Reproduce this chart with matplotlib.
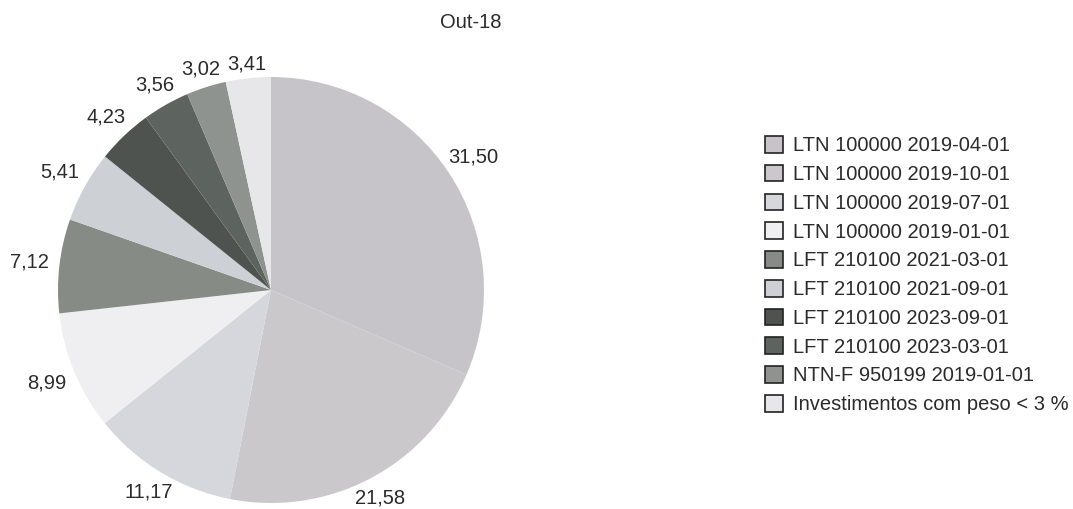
import matplotlib
matplotlib.use('Agg')
import numpy as np
import matplotlib.pyplot as plt

# Composicao da carteira em Out-18 (% do total)
labels = [
    'LTN 100000 2019-04-01',
    'LTN 100000 2019-10-01',
    'LTN 100000 2019-07-01',
    'LTN 100000 2019-01-01',
    'LFT 210100 2021-03-01',
    'LFT 210100 2021-09-01',
    'LFT 210100 2023-09-01',
    'LFT 210100 2023-03-01',
    'NTN-F 950199 2019-01-01',
    'Investimentos com peso < 3 %',
]
weights = [31.50, 21.58, 11.17, 8.99, 7.12, 5.41, 4.23, 3.56, 3.02, 3.41]
title = 'Out-18'

colors = ['#c6c4c9', '#cbc8cb', '#d5d7dc', '#efeef0', '#868b86',
          '#cdd1d6', '#4e534f', '#5d645f', '#8f938f', '#e7e7e9']

plt.rcParams['font.family'] = ['Liberation Sans', 'DejaVu Sans']
TEXT_COLOR = '#2b2b2b'
FONTSIZE = 14.5
W, H = 1073, 509

fig = plt.figure(figsize=(W / 100, H / 100), dpi=100)

# pie centre ~ (271, 290) px, radius ~ 213 px
cx, cy, r = 271, 290, 213
ax = fig.add_axes([(cx - r) / W, (H - cy - r) / H, 2 * r / W, 2 * r / H])

wedges, _ = ax.pie(weights, colors=colors, startangle=90, counterclock=False,
                   radius=1.0, wedgeprops={'linewidth': 0})
ax.set_xlim(-1, 1)
ax.set_ylim(-1, 1)
ax.set_aspect('equal')

# value labels centred just outside the rim (offset grows with text extent)
gap, half_w, half_h = 8 / r, 22 / r, 4 / r
for w, val in zip(wedges, weights):
    theta = np.deg2rad(0.5 * (w.theta1 + w.theta2))
    c, s = np.cos(theta), np.sin(theta)
    d = 1 + gap + half_w * abs(c) + half_h * abs(s)
    ax.text(d * c, d * s, ('%.2f' % val).replace('.', ','),
            ha='center', va='center', fontsize=FONTSIZE, color=TEXT_COLOR)

fig.text(471 / W, 1 - 22 / H, title, ha='center', va='center',
         fontsize=FONTSIZE, color=TEXT_COLOR)

handles = [plt.Rectangle((0, 0), 1, 1, facecolor=c, edgecolor='#222222', linewidth=1.2)
           for c in colors]
leg = fig.legend(handles, labels, loc='upper left',
                 bbox_to_anchor=(765 / W, 1 - 136 / H),
                 frameon=False, borderpad=0, borderaxespad=0,
                 handlelength=0.9, handleheight=0.9, handletextpad=0.5,
                 labelspacing=0.47, fontsize=FONTSIZE)
for t in leg.get_texts():
    t.set_color(TEXT_COLOR)

fig.savefig('out.png', dpi=100)
